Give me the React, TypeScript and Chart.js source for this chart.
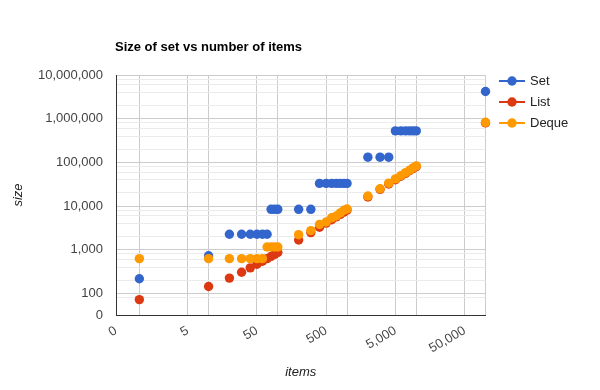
import React, { useEffect, useRef } from 'react';
import { Chart, registerables } from 'chart.js';

Chart.register(...registerables);

// ---- data ----
const items = [1, 10, 20, 30, 40, 50, 60, 70, 80, 90, 100, 200, 300, 400, 500, 600, 700, 800, 900, 1000, 2000, 3000, 4000, 5000, 6000, 7000, 8000, 9000, 10000, 100000];
const setSizes = [216, 728, 2264, 2264, 2264, 2264, 2264, 2264, 8408, 8408, 8408, 8408, 8408, 32984, 32984, 32984, 32984, 32984, 32984, 32984, 131288, 131288, 131288, 524504, 524504, 524504, 524504, 524504, 524504, 4194520];
const listSizes = [72, 144, 224, 304, 384, 464, 544, 624, 704, 784, 864, 1664, 2464, 3264, 4064, 4864, 5664, 6464, 7264, 8064, 16064, 24064, 32064, 40064, 48064, 56064, 64064, 72064, 80064, 800064];
const dequeSizes = [624, 624, 624, 624, 624, 624, 624, 1152, 1152, 1152, 1152, 2208, 2736, 3792, 4320, 5376, 5904, 6960, 8016, 8544, 16992, 24912, 33360, 41808, 49728, 58176, 66096, 74544, 82992, 825360];

const seriesNames = ['Set', 'List', 'Deque'];
const seriesColors = ['#3366cc', '#dc3912', '#ff9900'];

const chartTitle = 'Size of set vs number of items';
const xTitle = 'items';
const yTitle = 'size';

const xMin = 0.46;
const xMax = 100000;
const xTicks = [xMin, 1, 5, 10, 50, 100, 500, 1000, 5000, 10000, 50000, 100000];
const xLabelTicks = [5, 50, 500, 5000, 50000];

const yMin = 32;
const yMax = 10000000;
const yMajorTicks = [100, 1000, 10000, 100000, 1000000, 10000000];
const yMinorTicks = [80, 200, 400, 600, 800, 2000, 4000, 6000, 8000, 20000, 40000, 60000, 80000, 200000, 400000, 600000, 800000, 2000000, 4000000, 6000000, 8000000];

const FONT = "Arial, 'Liberation Sans', sans-serif";

const fmt = (v: number) => v.toLocaleString('en-US');

export default function App() {
  const ref = useRef<HTMLCanvasElement | null>(null);

  useEffect(() => {
    if (!ref.current) return;
    const seriesData = [setSizes, listSizes, dequeSizes];
    const yTicks = [yMin, ...yMinorTicks, ...yMajorTicks].sort((a, b) => a - b);

    const overlay = {
      id: 'overlay',
      afterDraw(chart: any) {
        const ctx = chart.ctx;
        ctx.save();
        // title
        ctx.font = `bold 13px ${FONT}`;
        ctx.fillStyle = '#000';
        ctx.textAlign = 'left';
        ctx.textBaseline = 'middle';
        ctx.fillText(chartTitle, 115, 47);
        // legend
        const ys = [81, 102, 123];
        chart.data.datasets.forEach((ds: any, i: number) => {
          const y = ys[i];
          ctx.strokeStyle = ds.backgroundColor;
          ctx.lineWidth = 2;
          ctx.beginPath();
          ctx.moveTo(499, y);
          ctx.lineTo(525, y);
          ctx.stroke();
          ctx.fillStyle = ds.backgroundColor;
          ctx.beginPath();
          ctx.arc(512, y, 4.7, 0, Math.PI * 2);
          ctx.fill();
          ctx.font = `13px ${FONT}`;
          ctx.fillStyle = '#222';
          ctx.textAlign = 'left';
          ctx.textBaseline = 'middle';
          ctx.fillText(ds.label, 530, y);
        });
        ctx.restore();
      },
    };

    const chart = new Chart(ref.current, {
      type: 'scatter',
      data: {
        datasets: seriesNames.map((name, i) => ({
          label: name,
          data: items.map((x, j) => ({ x, y: seriesData[i][j] })),
          backgroundColor: seriesColors[i],
          borderColor: seriesColors[i],
          pointRadius: 4.7,
          pointHoverRadius: 4.7,
          pointBorderWidth: 0,
          order: 2 - i,
          clip: false,
        })),
      },
      options: {
        animation: false,
        responsive: false,
        devicePixelRatio: 1,
        events: [],
        layout: { padding: { left: 0, top: 75, right: 114.5, bottom: 0 } },
        plugins: {
          legend: { display: false },
          title: { display: false },
          tooltip: { enabled: false },
        },
        scales: {
          x: {
            type: 'logarithmic',
            min: xMin,
            max: xMax,
            afterBuildTicks: (scale: any) => {
              scale.ticks = xTicks.map((v) => ({ value: v }));
            },
            afterFit: (scale: any) => {
              scale.height = 75;
            },
            ticks: {
              autoSkip: false,
              minRotation: 30,
              maxRotation: 30,
              padding: 8,
              color: '#444',
              font: { family: FONT, size: 13 },
              callback: (value: any) => {
                const v = Number(value);
                if (v === xMin) return '0';
                return xLabelTicks.includes(v) ? fmt(v) : '';
              },
            },
            grid: {
              drawTicks: false,
              color: (c: any) => (c.tick && c.tick.value === xMin ? 'rgba(0,0,0,0)' : '#cccccc'),
              lineWidth: 1,
            },
            border: { display: true, color: '#333333', width: 1 },
            title: {
              display: true,
              text: xTitle,
              color: '#222',
              font: { family: FONT, size: 13, style: 'italic' },
              padding: { top: 0, bottom: 10 },
            },
          },
          y: {
            type: 'logarithmic',
            min: yMin,
            max: yMax,
            afterBuildTicks: (scale: any) => {
              scale.ticks = yTicks.map((v) => ({ value: v }));
            },
            afterFit: (scale: any) => {
              scale.width = 116;
            },
            ticks: {
              autoSkip: false,
              padding: 13,
              color: '#444',
              font: { family: FONT, size: 13 },
              callback: (value: any) => {
                const v = Number(value);
                if (v === yMin) return '0';
                return yMajorTicks.includes(v) ? fmt(v) : '';
              },
            },
            grid: {
              drawTicks: false,
              color: (c: any) => {
                const v = c.tick ? c.tick.value : 0;
                if (v === yMin) return 'rgba(0,0,0,0)';
                return yMajorTicks.includes(v) ? '#cccccc' : '#ebebeb';
              },
              lineWidth: 1,
            },
            border: { display: true, color: '#333333', width: 1 },
            title: {
              display: true,
              text: yTitle,
              color: '#222',
              font: { family: FONT, size: 13, style: 'italic' },
              padding: { top: 11, bottom: 0 },
            },
          },
        },
      },
      plugins: [overlay],
    } as any);

    return () => chart.destroy();
  }, []);

  return (
    <div style={{ position: 'absolute', left: 0, top: 0, width: 600, height: 390 }}>
      <canvas ref={ref} width={600} height={390} style={{ width: 600, height: 390 }} />
    </div>
  );
}
